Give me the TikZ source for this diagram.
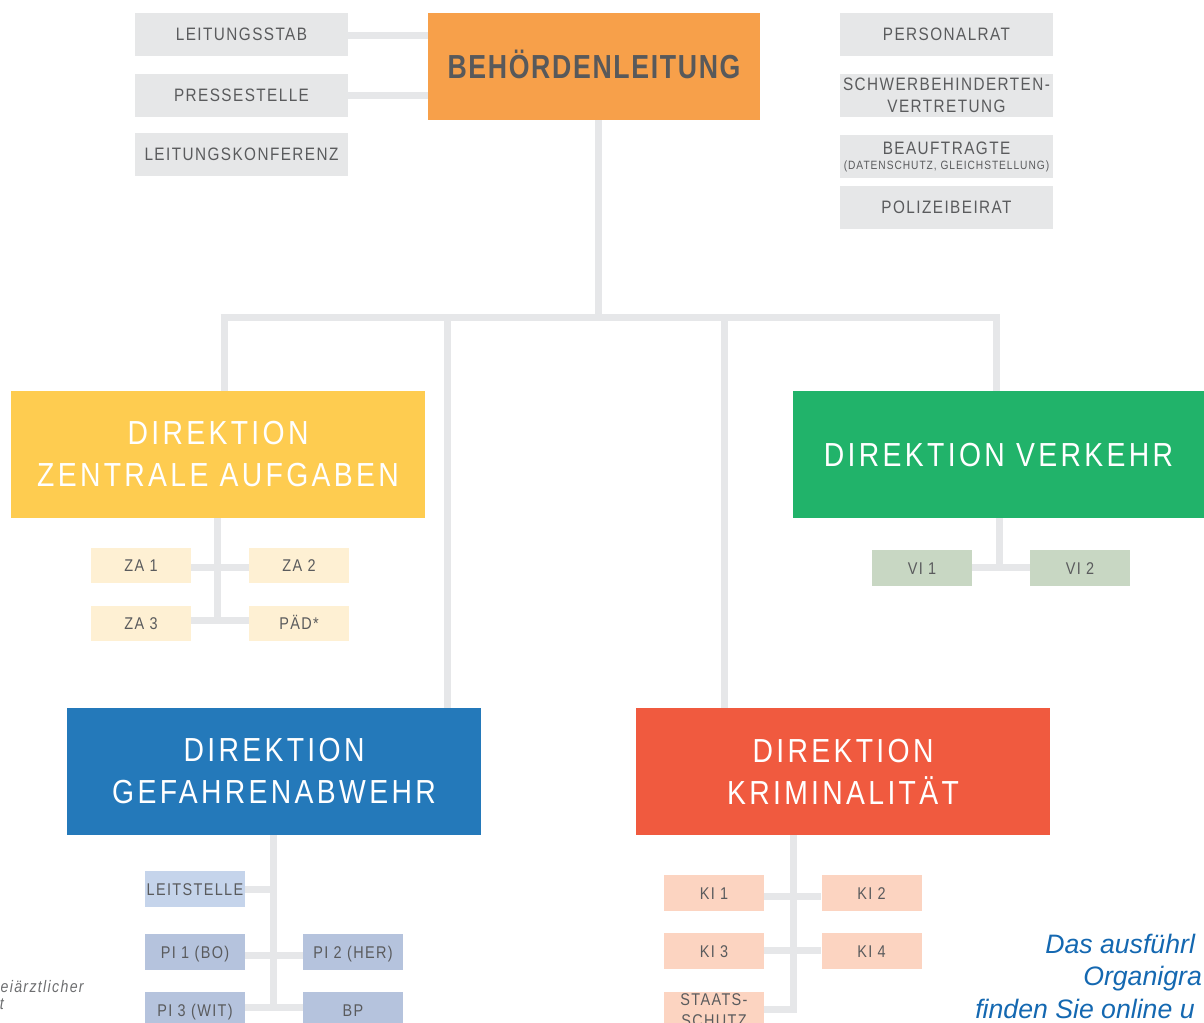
\documentclass[tikz,border=0pt]{standalone}
\usepackage{fontspec}
\setmainfont{Liberation Sans}
\newfontfamily\bfnt[FakeStretch=0.85,LetterSpace=8]{Liberation Sans}
\newfontfamily\dfnt[FakeStretch=0.85,LetterSpace=10]{Liberation Sans}
\newfontfamily\hfnt[FakeStretch=0.8,LetterSpace=5]{Liberation Sans}
\usetikzlibrary{backgrounds}
\definecolor{cgray}{HTML}{E6E7E8}
\definecolor{ctext}{HTML}{5A5B5D}
\definecolor{chead}{HTML}{58595B}
\definecolor{corange}{HTML}{F7A04A}
\definecolor{cyellow}{HTML}{FECC50}
\definecolor{cgreen}{HTML}{21B36A}
\definecolor{cblue}{HTML}{2479BA}
\definecolor{cred}{HTML}{F05A3F}
\definecolor{czasub}{HTML}{FEF0D3}
\definecolor{cvisub}{HTML}{C8D7C3}
\definecolor{cleitst}{HTML}{C5D4EB}
\definecolor{cpi}{HTML}{B5C3DD}
\definecolor{cki}{HTML}{FCD4C1}
\definecolor{cline}{HTML}{E6E7E9}
\definecolor{cbluetext}{HTML}{1468B1}
\definecolor{cnote}{HTML}{6D6E70}
\begin{document}
\begin{tikzpicture}[x=0.75pt,y=-0.75pt,
  graybox/.style={fill=cgray, text=ctext, inner sep=0pt, minimum width=159.75pt,
    minimum height=32.25pt, font=\bfnt\fontsize{13.5}{16.5}\selectfont, align=center},
  capone/.style={text height=9.67pt, text depth=0pt},
  dirbox/.style={inner sep=0pt, minimum width=310.5pt, minimum height=95.25pt,
    text=white, font=\dfnt\fontsize{25}{31.5}\selectfont, align=center},
  subbox/.style={inner sep=0pt, minimum width=75pt, minimum height=27pt, text=ctext,
    font=\bfnt\fontsize{12.75}{15.5}\selectfont, align=center},
  subcap/.style={text height=9.13pt, text depth=0pt},
  conn/.style={draw=cline, line width=5.25pt},
  note/.style={inner sep=0pt, text=cnote, font=\bfnt\itshape\fontsize{12.5}{14}\selectfont},
  link/.style={inner sep=0pt, text=cbluetext, font=\itshape\fontsize{20}{24}\selectfont}
]
\useasboundingbox (0,0) rectangle (1204,1023);

% top left staff
\node[graybox,capone] (stab) at (241.5,34.5) {LEITUNGSSTAB};
\node[graybox,capone] (presse) at (241.5,95.5) {PRESSESTELLE};
\node[graybox,capone] (konf) at (241.5,154.5) {LEITUNGSKONFERENZ};

% head
\node[fill=corange, text=chead, font=\hfnt\bfseries\fontsize{25}{30}\selectfont,
  minimum width=249pt, minimum height=80.25pt, inner sep=0pt,
  text height=17.9pt, text depth=0pt] (leit) at (594,66.5) {BEHÖRDENLEITUNG};

% top right
\node[graybox,capone] (prat) at (946.5,34.5) {PERSONALRAT};
\node[graybox] (schwer) at (946.5,95.5) {SCHWERBEHINDERTEN-\\VERTRETUNG};
\node[graybox] (beauf) at (946.5,156.5) {BEAUFTRAGTE\\[-5.25pt]{\fontsize{9}{10}\selectfont(DATENSCHUTZ, GLEICHSTELLUNG)}};
\node[graybox,capone] (beirat) at (946.5,207.5) {POLIZEIBEIRAT};

% directorates
\node[dirbox, fill=cyellow] (za) at (218,454.5) {DIREKTION\\ZENTRALE AUFGABEN};
\node[dirbox, fill=cgreen, minimum width=308.25pt, text height=17.9pt, text depth=0pt] (vk) at (998.5,454.5) {DIREKTION VERKEHR};
\node[dirbox, fill=cblue] (gef) at (274,771.5) {DIREKTION\\GEFAHRENABWEHR};
\node[dirbox, fill=cred] (krim) at (843,771.5) {DIREKTION\\KRIMINALITÄT};

% ZA sub
\node[subbox,subcap,fill=czasub,minimum height=26.25pt] (za1) at (141,565.5) {ZA 1};
\node[subbox,subcap,fill=czasub,minimum height=26.25pt] (za2) at (299,565.5) {ZA 2};
\node[subbox,subcap,fill=czasub,minimum height=26.25pt] (za3) at (141,623) {ZA 3};
\node[subbox,subcap,fill=czasub,minimum height=26.25pt] (paed) at (299,623) {PÄD*};

% VK sub
\node[subbox,subcap,fill=cvisub] (vi1) at (922,568) {VI 1};
\node[subbox,subcap,fill=cvisub] (vi2) at (1080,568) {VI 2};

% GEF sub
\node[subbox,subcap,fill=cleitst] (leitst) at (195,889) {LEITSTELLE};
\node[subbox,subcap,fill=cpi] (pi1) at (195,952) {PI 1 (BO)};
\node[subbox,subcap,fill=cpi] (pi2) at (353,952) {PI 2 (HER)};
\node[subbox,subcap,fill=cpi] (pi3) at (195,1010) {PI 3 (WIT)};
\node[subbox,subcap,fill=cpi] (bp) at (353,1010) {BP};

% KRIM sub
\node[subbox,subcap,fill=cki] (ki1) at (714,893) {KI 1};
\node[subbox,subcap,fill=cki] (ki2) at (871.5,893) {KI 2};
\node[subbox,subcap,fill=cki] (ki3) at (714,951) {KI 3};
\node[subbox,subcap,fill=cki] (ki4) at (871.5,951) {KI 4};
\node[subbox,fill=cki] (staats) at (714,1010) {STAATS-\\SCHUTZ};

% notes
\node[note, anchor=base east] (note1) at (84,992) {eiärztlicher};
\node[note, anchor=base east] (note2) at (4,1009) {t};
\node[link, anchor=base west] (lk1) at (1045,953) {Das ausführl};
\node[link, anchor=base west] (lk2) at (1083,985) {Organigra};
\node[link, anchor=base west] (lk3) at (975,1018) {finden Sie online u};

% connectors
\begin{scope}[on background layer]
\draw[conn] ([yshift=-1.1pt]stab.east) -- ([yshift=-1.1pt]stab.east -| leit.west);
\draw[conn] (presse.east) -- (presse.east -| leit.west);
\coordinate (trunk) at (598,317.5);
\draw[conn] (trunk |- leit.south) -- (trunk);
\coordinate (barL) at (220.5,317.5);
\coordinate (barR) at (999.5,317.5);
\draw[conn] (barL) -- (barR);
\coordinate (t1) at (224,317.5);
\coordinate (t2) at (447.5,317.5);
\coordinate (t3) at (724,317.5);
\coordinate (t4) at (996,317.5);
\draw[conn] (t1) -- (t1 |- za.north);
\draw[conn] (t2) -- (t2 |- gef.north);
\draw[conn] (t3) -- (t3 |- krim.north);
\draw[conn] (t4) -- (t4 |- vk.north);
% ZA
\coordinate (zaend) at (217,623.5);
\draw[conn] (zaend |- za.south) -- (zaend);
\draw[conn] ([yshift=-1.5pt]za1.east) -- ([yshift=-1.5pt]za2.west);
\draw[conn] ([yshift=2.25pt]za3.east) -- ([yshift=2.25pt]paed.west);
% VK
\coordinate (vkend) at (999.5,571.5);
\draw[conn] (vkend |- vk.south) -- (vkend);
\draw[conn] (vi1.east) -- (vi2.west);
% GEF
\coordinate (gefend) at (273.5,1010.5);
\draw[conn] (gefend |- gef.south) -- (gefend);
\draw[conn] (leitst.east) -- (leitst.east -| gefend);
\draw[conn] ([yshift=-2.6pt]pi1.east) -- ([yshift=-2.6pt]pi2.west);
\draw[conn] ([yshift=2.25pt]pi3.east) -- ([yshift=2.25pt]bp.west);
% KRIM
\coordinate (kend) at (793,1012.5);
\draw[conn] (kend |- krim.south) -- (kend);
\draw[conn] ([yshift=-2.25pt]ki1.east) -- ([yshift=-2.25pt]ki2.west);
\draw[conn] ([yshift=0.75pt]ki3.east) -- ([yshift=0.75pt]ki4.west);
\draw[conn] ([yshift=0.75pt]staats.east) -- ([yshift=0.75pt]staats.east -| kend);
\end{scope}
\end{tikzpicture}
\end{document}
